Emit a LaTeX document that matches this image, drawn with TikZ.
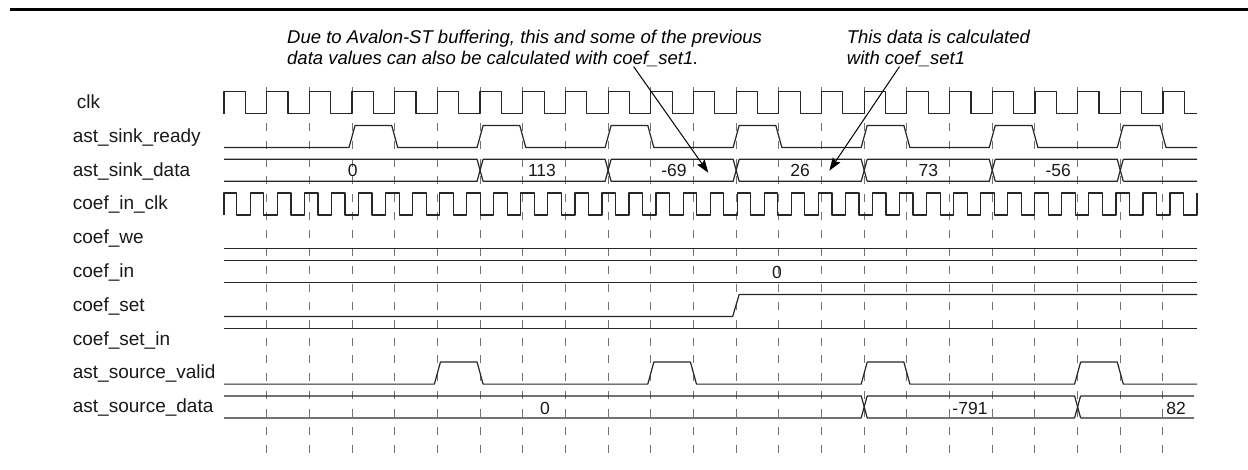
\documentclass[tikz,border=0pt]{standalone}
\usepackage{fontspec}
\setmainfont{Liberation Sans}
\usetikzlibrary{arrows.meta}

\begin{document}
\begin{tikzpicture}[
  x=1pt, y=-1pt,
  sig/.style={anchor=base west, inner sep=0pt, font=\fontsize{19}{22}\selectfont, text=black!90},
  val/.style={anchor=base, inner sep=0pt, font=\fontsize{17.5}{20}\selectfont, text=black!90},
  note/.style={anchor=north west, align=left, inner sep=0pt, font=\fontsize{18.5}{21}\selectfont\itshape},
  wave/.style={line width=1.2pt, black!85, line join=round},
  tick/.style={line width=1pt, black!55, dash pattern=on 8pt off 9.9pt},
  arr/.style={-{Stealth[length=13pt,width=9pt,inset=2pt]}, line width=1pt}
]
\def\xo{224}   % first clk edge
\def\xe{1197}  % end of traces
\def\T{42.68}  % clk period
\useasboundingbox (0,0) rectangle (1248,470);

\draw[line width=3pt] (10,10) -- (1248,10);

% signal names
\foreach \n/\txt/\dx [count=\i from 0] in {lclk/clk/4, lrdy/ast\_sink\_ready/0,
    ldata/ast\_sink\_data/0, lcclk/coef\_in\_clk/0, lwe/coef\_we/0, lcin/coef\_in/0,
    lset/coef\_set/0, lsetin/coef\_set\_in/0, lvalid/ast\_source\_valid/0,
    lsrc/ast\_source\_data/0}
  \node[sig] (\n) at ({72.7+\dx},{108.5+33.8*\i}) {\txt};

% clock edges
\foreach \k in {1,...,22}
  \draw[tick] ({\xo+\T*\k},87) -- ++(0,372);

% clk
\draw[wave] (\xo,113.8) -- ++(0,-22)
  \foreach \k in {1,...,22} { -- ++(\T/2,0) -- ++(0,22) -- ++(\T/2,0) -- ++(0,-22) }
  -- ++(\T/2,0) -- ++(0,22) -- (\xe,113.8);

% ast_sink_ready
\draw[wave] (\xo,147.5) \foreach \k in {3,6,...,21}
  { -- ({\xo+\T*\k-3},147.5) -- ({\xo+\T*\k+3},125.5)
    -- ({\xo+\T*(\k+1)-3},125.5) -- ({\xo+\T*(\k+1)+3},147.5) }
  -- (\xe,147.5);

% ast_sink_data
\draw[wave] (\xo,159.3) \foreach \k in {6,9,...,21}
  { -- ({\xo+\T*\k-3},159.3) -- ({\xo+\T*\k+3},181.3) ({\xo+\T*\k+3},159.3) } -- (\xe,159.3);
\draw[wave] (\xo,181.3) \foreach \k in {6,9,...,21}
  { -- ({\xo+\T*\k-3},181.3) -- ({\xo+\T*\k+3},159.3) ({\xo+\T*\k+3},181.3) } -- (\xe,181.3);
\node[val] (d0) at (352.7,176.7) {0};
\node[val] (d1) at (542,176.7) {113};
\node[val] (d2) at (674,176.7) {-69};
\node[val] (d3) at (800,176.7) {26};
\node[val] (d4) at (928.3,176.7) {73};
\node[val] (d5) at (1058.3,176.7) {-56};

% coef_in_clk
\draw[wave] (\xo,215.1) -- ++(0,-22) -- (236.8,193.1) -- ++(0,22)
  \foreach \j in {1,...,35} { -- ++(13.5,0) -- ++(0,-22) -- ++(13.55,0) -- ++(0,22) }
  -- ++(13.5,0) -- ++(0,-22);

% coef_we, coef_in
\draw[wave] (\xo,248.9) -- (\xe,248.9);
\draw[wave] (\xo,260.7) -- (\xe,260.7) (\xo,282.7) -- (\xe,282.7);
\node[val] (cin0) at (777,278.1) {0};

% coef_set, coef_set_in
\draw[wave] (\xo,316.5) -- ({\xo+\T*12-3.5},316.5) -- ({\xo+\T*12+3},294.5) -- (\xe,294.5);
\draw[wave] (\xo,328.3) -- (\xe,328.3);

% ast_source_valid
\draw[wave] (\xo,384.1) \foreach \k in {5,10,15,20}
  { -- ({\xo+\T*\k-3},384.1) -- ({\xo+\T*\k+3},362.1)
    -- ({\xo+\T*(\k+1)-3},362.1) -- ({\xo+\T*(\k+1)+3},384.1) }
  -- (\xe,384.1);

% ast_source_data
\draw[wave] (\xo,395.9) \foreach \k in {15,20}
  { -- ({\xo+\T*\k-3},395.9) -- ({\xo+\T*\k+3},417.9) ({\xo+\T*\k+3},395.9) } -- (1194,395.9);
\draw[wave] (\xo,417.9) \foreach \k in {15,20}
  { -- ({\xo+\T*\k-3},417.9) -- ({\xo+\T*\k+3},395.9) ({\xo+\T*\k+3},417.9) } -- (1194,417.9);
\node[val] (s0) at (545,414) {0};
\node[val] (s1) at (970,414) {-791};
\node[val] (s2) at (1176,414) {82};

% notes
\node[note] (note1) at (287,29.5) {Due to Avalon-ST buffering, this and some of the previous\\data values can also be calculated with coef\_set1.};
\node[note] (note2) at (846.7,29.5) {This data is calculated\\with coef\_set1};
\coordinate (tip1) at (708.3,172.7);
\coordinate (tip2) at (829.3,170.7);
\draw[arr] ([xshift=346.6pt]note1.south west) -- (tip1);
\draw[arr] ([xshift=52.8pt]note2.south west) -- (tip2);
\end{tikzpicture}
\end{document}
